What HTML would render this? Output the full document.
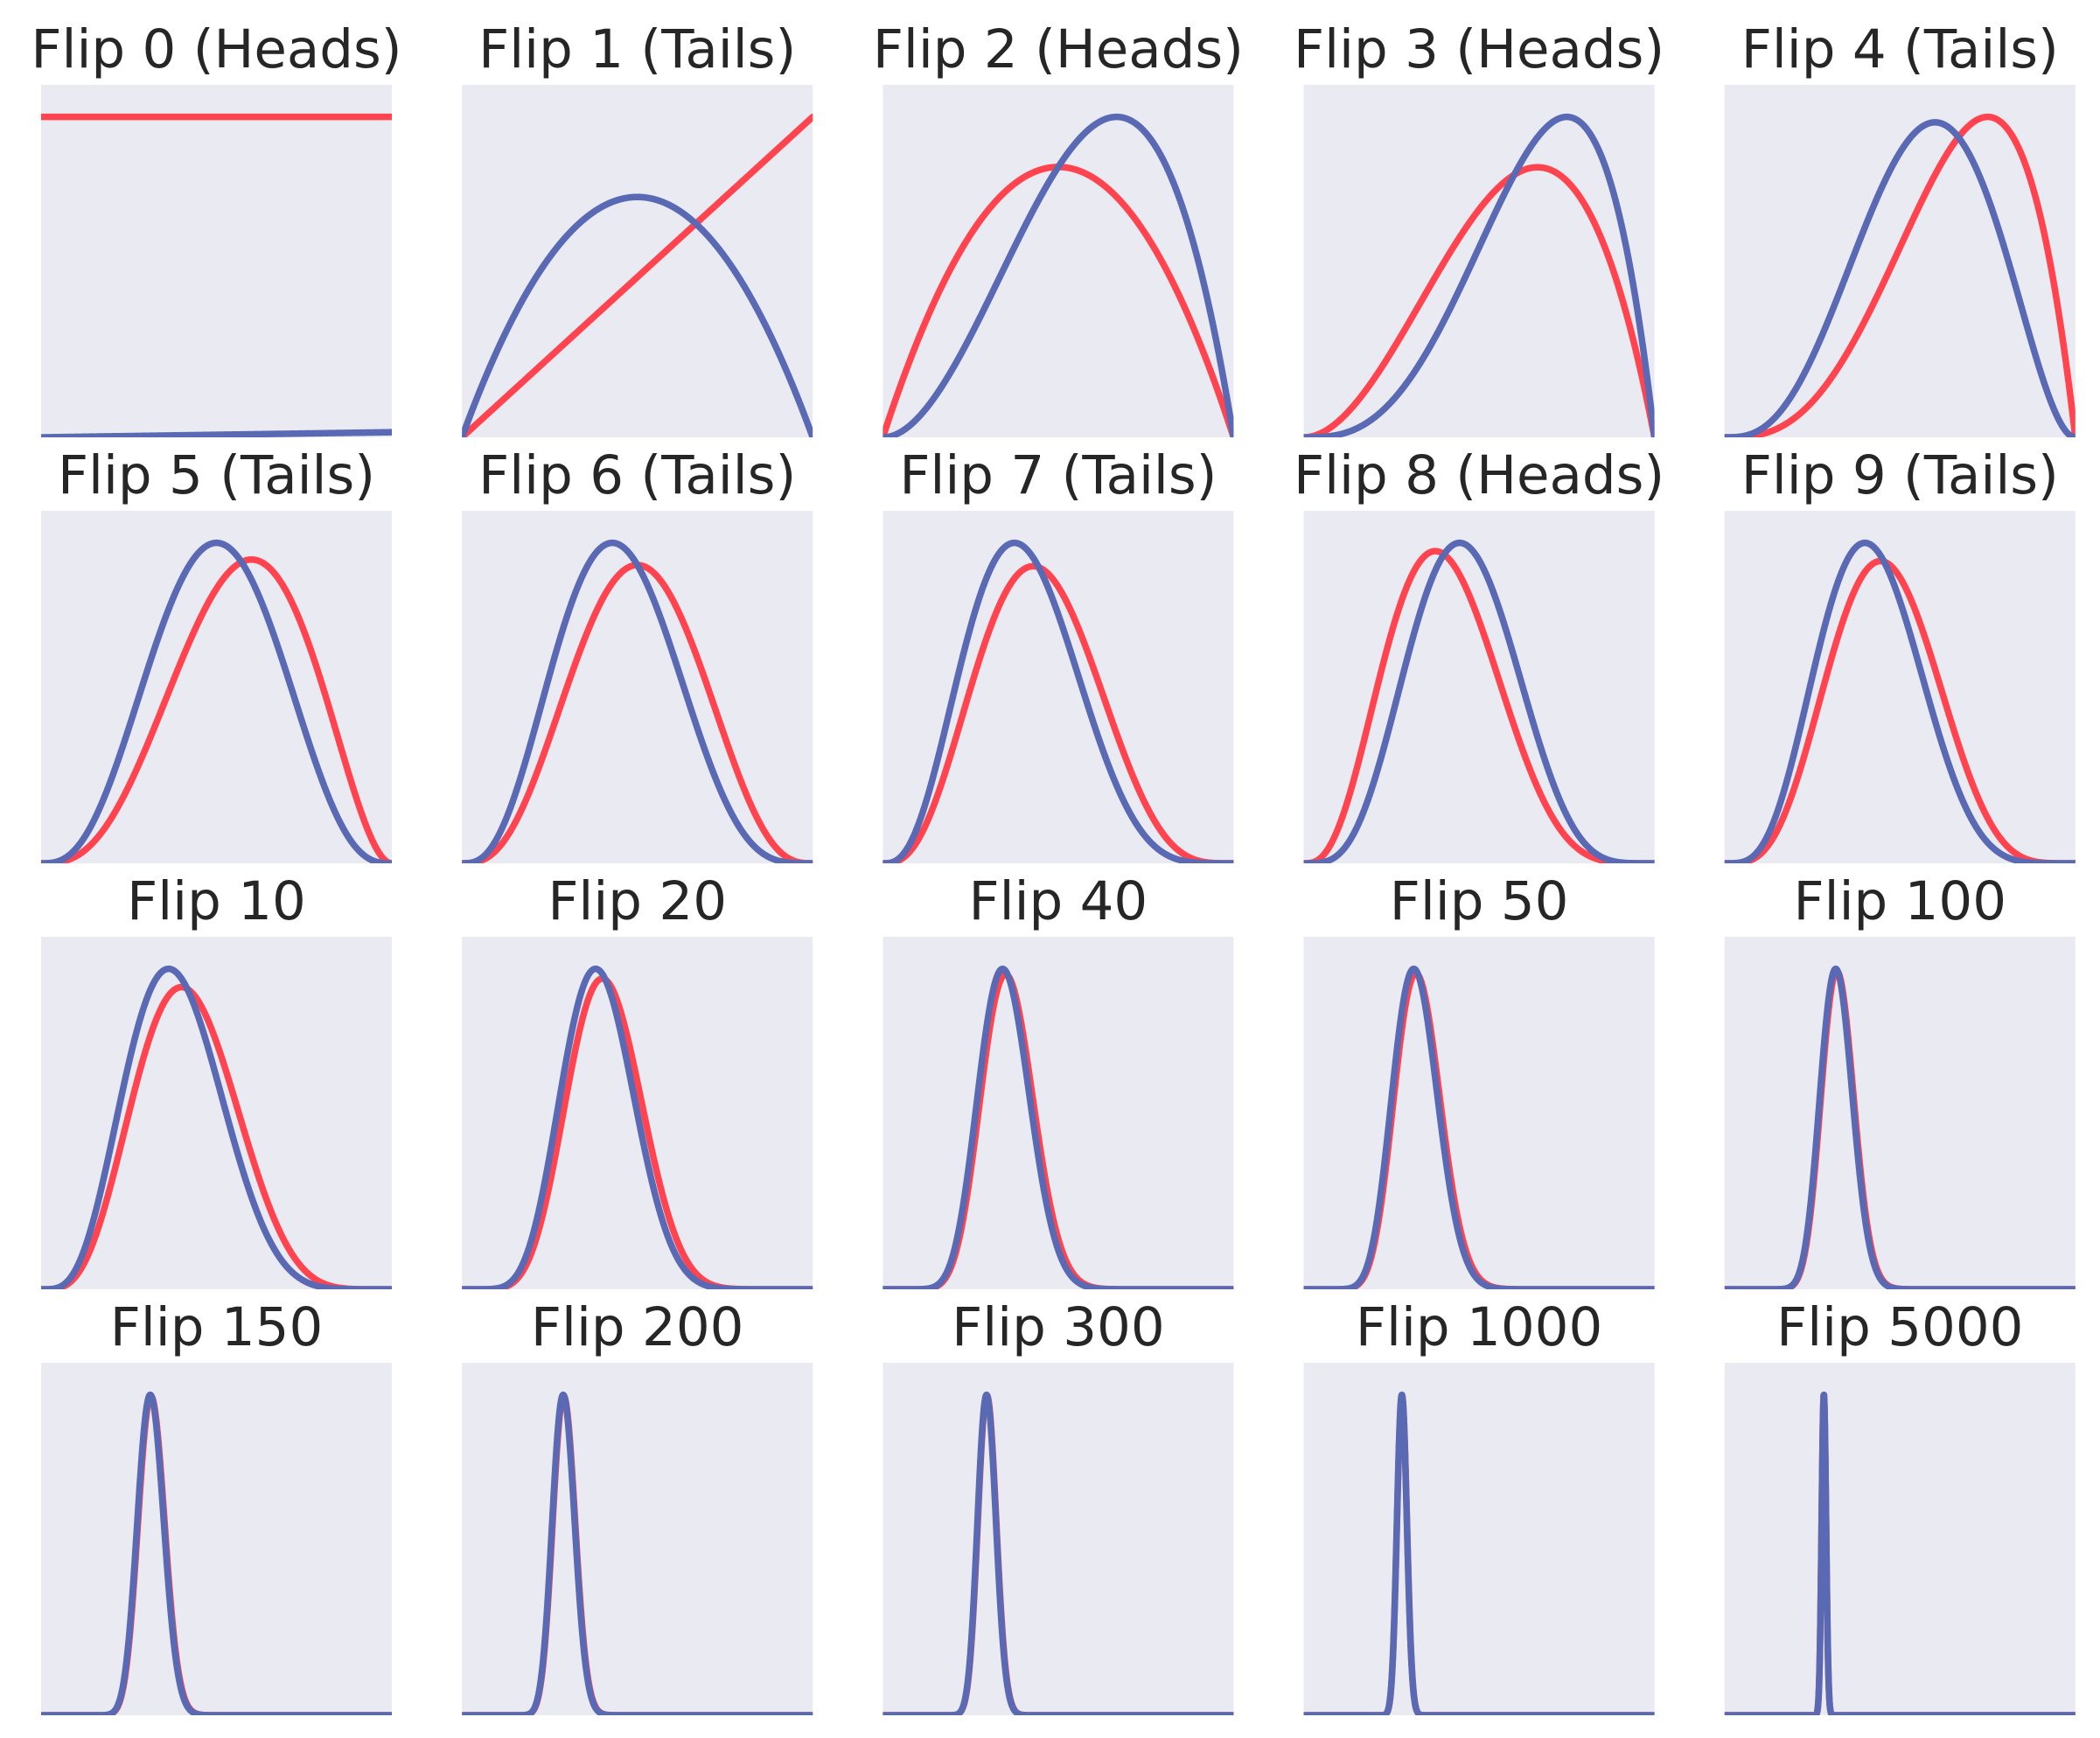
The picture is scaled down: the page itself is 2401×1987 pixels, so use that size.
<!DOCTYPE html>
<html><head><meta charset="utf-8">
<style>
html,body{margin:0;padding:0;background:#fff;}
svg{display:block;}
text{font-family:"DejaVu Sans","Liberation Sans",sans-serif;fill:#262626;}
</style></head>
<body>
<svg id="fig" width="2401" height="1987" viewBox="0 0 2401 1987" xmlns="http://www.w3.org/2000/svg"></svg>
<script>
// Panel titles
const titles = ["Flip 0 (Heads)","Flip 1 (Tails)","Flip 2 (Heads)","Flip 3 (Heads)","Flip 4 (Tails)",
  "Flip 5 (Tails)","Flip 6 (Tails)","Flip 7 (Tails)","Flip 8 (Heads)","Flip 9 (Tails)",
  "Flip 10","Flip 20","Flip 40","Flip 50","Flip 100",
  "Flip 150","Flip 200","Flip 300","Flip 1000","Flip 5000"];
// Red curve (prior) beta parameters
const redA = [1,2,2,3,4, 4,4,4,4,5, 5,9,15,17,33, 48,59,90,281,1416];
const redB = [1,1,2,2,2, 3,4,5,6,6, 7,13,27,35,69, 104,143,212,721,3586];
// Blue curve (posterior) beta parameters
const blueA = [2,2,3,4,4, 4,4,4,5,5, 5,9,15,17,33, 48,59,90,281,1416];
const blueB = [1,2,2,2,3, 4,5,6,6,7, 8,14,28,36,70, 105,144,213,722,3587];
// Blue curve vertical scale factor (flip 0 is nearly flat at zero)
const blueScale = [0.008,1,1,1,1, 1,1,1,1,1, 1,1,1,1,1, 1,1,1,1,1];

const NS = "http://www.w3.org/2000/svg";
const svg = document.getElementById("fig");
const X0 = 47, DX = 481.2, PW = 401, Y0 = 97, DY = 487, PH = 403;

function lgamma(z){
  const g=7, c=[0.99999999999980993,676.5203681218851,-1259.1392167224028,771.32342877765313,
    -176.61502916214059,12.507343278686905,-0.13857109526572012,9.9843695780195716e-6,1.5056327351493116e-7];
  if(z<0.5) return Math.log(Math.PI/Math.sin(Math.PI*z))-lgamma(1-z);
  z-=1; let x=c[0]; for(let i=1;i<g+2;i++) x+=c[i]/(z+i);
  const t=z+g+0.5;
  return 0.5*Math.log(2*Math.PI)+(z+0.5)*Math.log(t)-t+Math.log(x);
}
function betaPdf(x,a,b){
  if(x<=0) return a===1?b:(a<1?Infinity:0);
  if(x>=1) return b===1?a:(b<1?Infinity:0);
  const lb=lgamma(a)+lgamma(b)-lgamma(a+b);
  return Math.exp((a-1)*Math.log(x)+(b-1)*Math.log(1-x)-lb);
}
function el(tag, attrs){ const e=document.createElementNS(NS,tag); for(const k in attrs) e.setAttribute(k,attrs[k]); return e; }

const defs = el("defs",{});
svg.appendChild(defs);
const N = 1200;
titles.forEach((t,i)=>{
  const r=Math.floor(i/5), c=i%5;
  const px=X0+c*DX, py=Y0+r*DY;
  const g=el("g",{});
  
  
  svg.appendChild(g);
  const cp=el("clipPath",{id:"cp"+i});
  cp.appendChild(el("rect",{x:px,y:py,width:PW,height:PH}));
  defs.appendChild(cp);
  const bg=el("rect",{x:px,y:py,width:PW,height:PH,fill:"#eaeaf2"});
  
  
  g.appendChild(bg);
  const tx=el("text",{x:px+PW/2,y:py-20,"text-anchor":"middle","font-size":"61"});
  tx.textContent=t;
  
  
  g.appendChild(tx);
  const xs=[], rv=[], bv=[];
  for(let k=0;k<=N;k++){ const x=k/N; xs.push(x); rv.push(betaPdf(x,redA[i],redB[i])); bv.push(betaPdf(x,blueA[i],blueB[i])*blueScale[i]); }
  let m=0; rv.concat(bv).forEach(v=>{ if(isFinite(v)&&v>m) m=v; });
  const ymax=m*1.1;
  const sx=x=>px+x*PW, sy=v=>py+PH-(Math.min(v,ymax*2)/ymax)*PH;
  const mk=(vals,color,name)=>{
    let d=""; vals.forEach((v,k)=>{ d+=(k?"L":"M")+sx(xs[k]).toFixed(2)+" "+sy(v).toFixed(2); });
    const p=el("path",{d:d,fill:"none",stroke:color,"stroke-width":"7.5","stroke-linejoin":"round","stroke-linecap":"round","clip-path":"url(#cp"+i+")"});
    
    
    g.appendChild(p);
  };
  mk(rv,"#ff444f","prior-curve");
  mk(bv,"#5a69b4","posterior-curve");
});
</script>
</body></html>
